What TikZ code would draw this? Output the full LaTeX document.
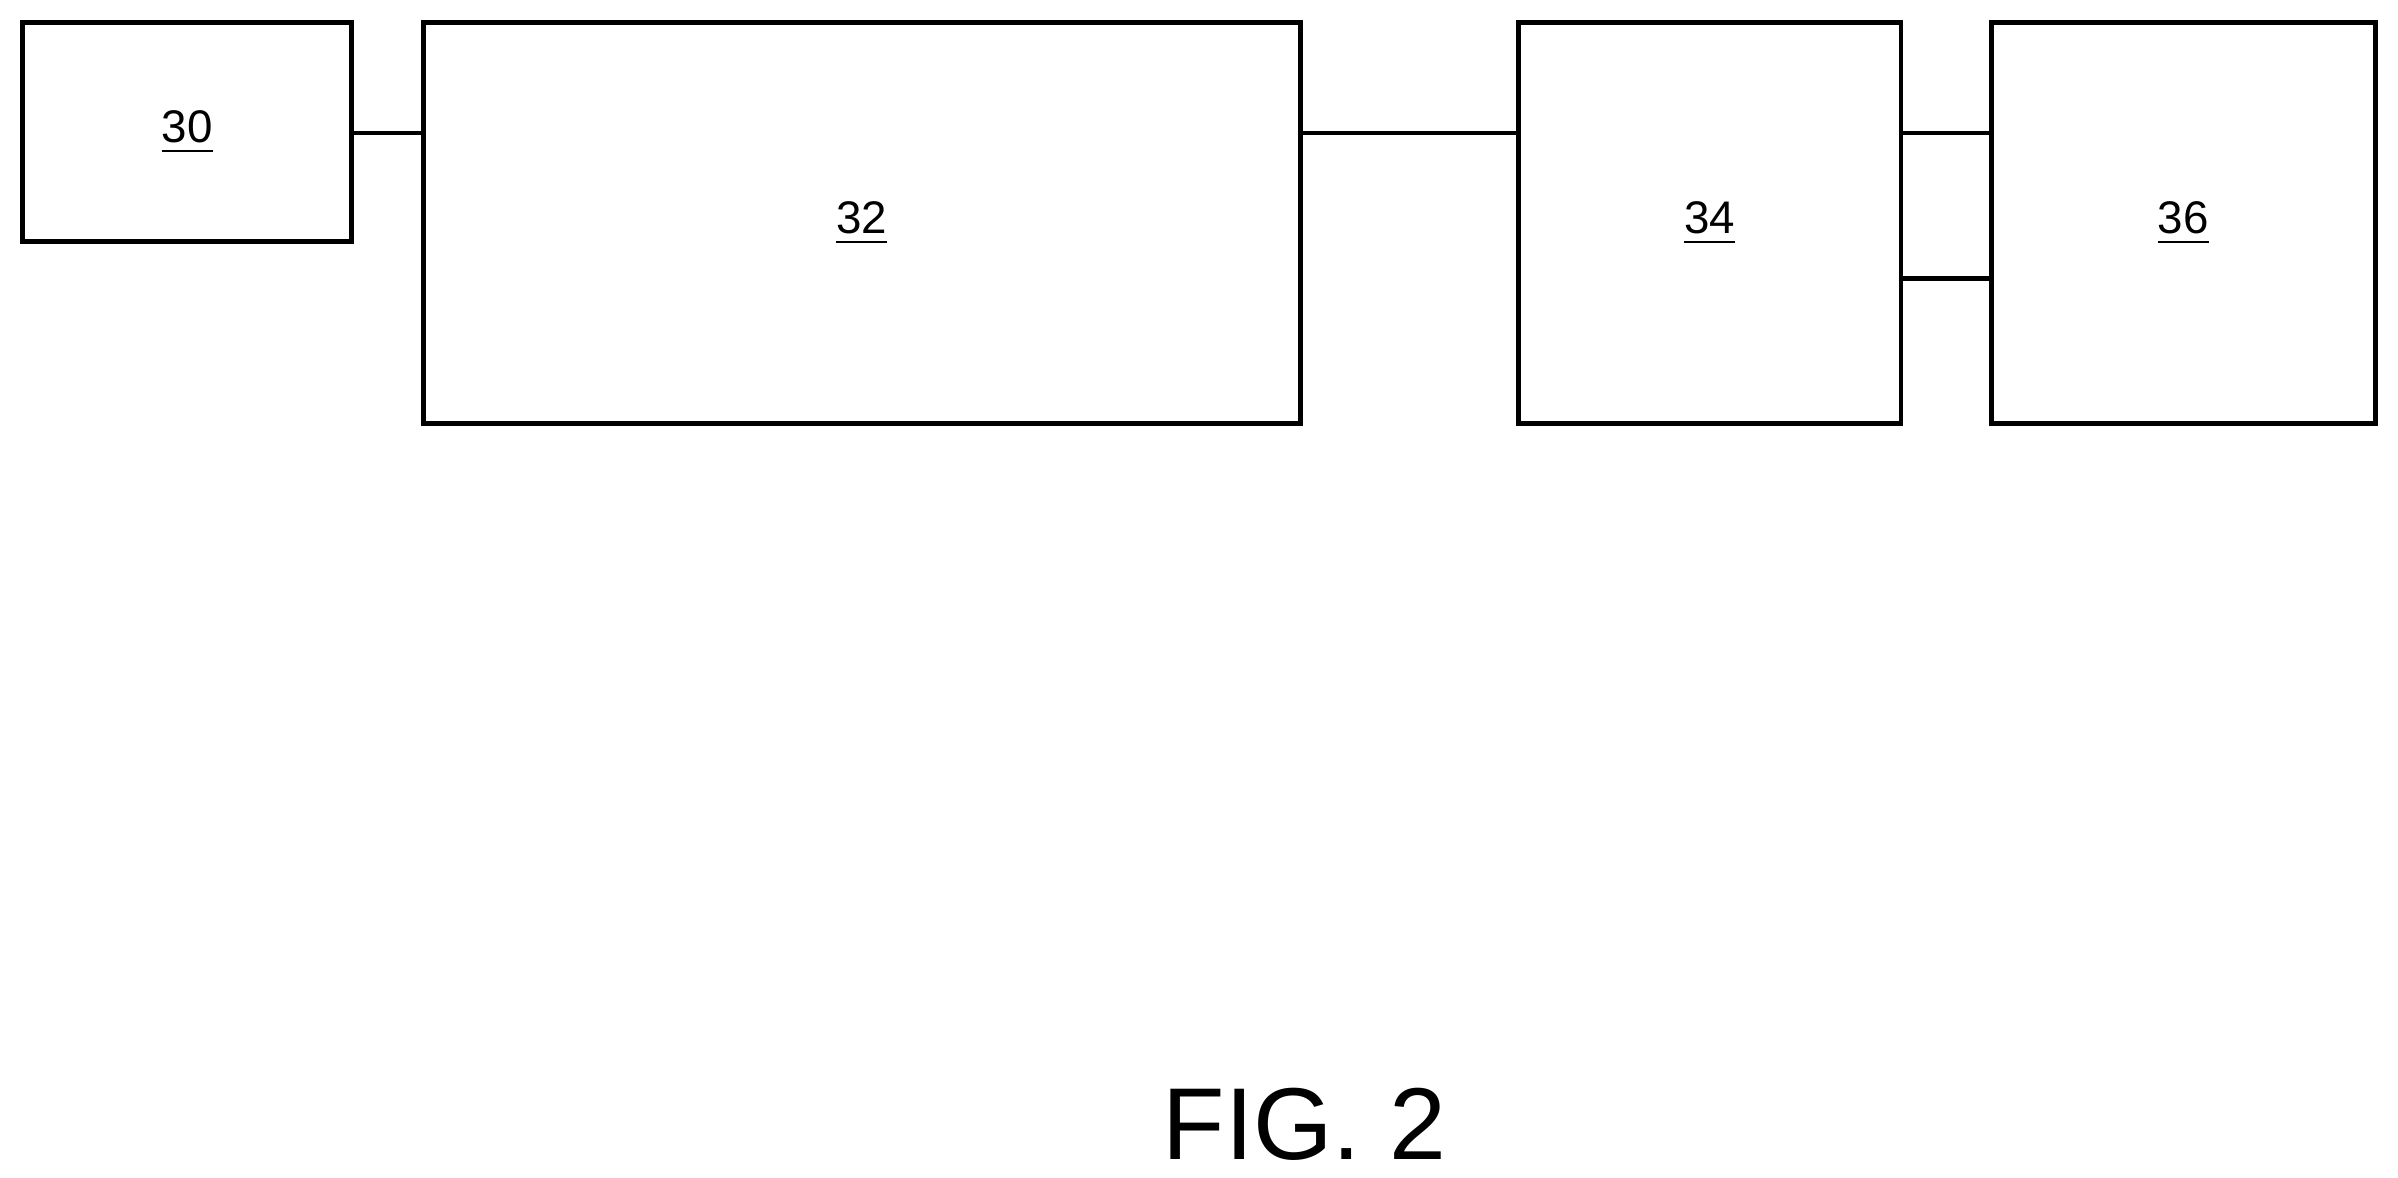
\documentclass[tikz,border=0pt]{standalone}
\usepackage{fontspec}
\setmainfont{Liberation Sans}
\usetikzlibrary{positioning}
\tikzset{
    block/.style={draw, line width=0.9pt, inner sep=0pt, font=\fontsize{8.5}{10}\selectfont},
}
\begin{document}
\begin{tikzpicture}[x=0.01cm,y=-0.01cm]
        \useasboundingbox (0,0) rectangle (1568,770);
        % Blocks
        \node[block, minimum width=2.15cm, minimum height=1.43cm] (b30) at (122.5,86.5) {\underline{30}};
        \node[block, minimum width=5.73cm, minimum height=2.62cm] (b32) at (563.5,146) {\underline{32}};
        \node[block, minimum width=2.50cm, minimum height=2.62cm] (b34) at (1118,146) {\underline{34}};
        \node[block, minimum width=2.51cm, minimum height=2.62cm] (b36) at (1427.5,146) {\underline{36}};
        % Connections
        \draw[line width=0.9pt] (b30.east |- 0,87) -- (b32.west |- 0,87);
        \draw[line width=0.9pt] (b32.east |- 0,87) -- (b34.west |- 0,87);
        \draw[line width=0.9pt] (b34.east |- 0,87) -- (b36.west |- 0,87);
        \draw[line width=0.9pt] (b34.east |- 0,182) -- (b36.west |- 0,182);
        % Caption
        \node[font=\fontsize{19}{22}\selectfont] (fig) at (853,735) {FIG. 2};
    \end{tikzpicture}
\end{document}
